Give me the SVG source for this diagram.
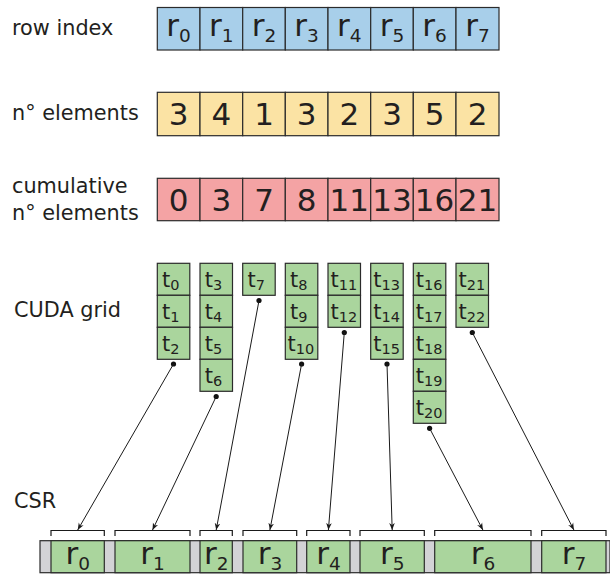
<svg xmlns="http://www.w3.org/2000/svg" width="610" height="574" viewBox="0 0 610 574">
  <defs>
    <style>
      text { font-family: "DejaVu Sans", "Liberation Sans", sans-serif; fill: #231f20; }
      .lbl { font-size: 20.8px; }
      .big { font-size: 31px; text-anchor: middle; }
      .th { font-size: 21px; }
      .cell { stroke: #2b2b2b; stroke-width: 1.2; }
      .blue { fill: #a8cfea; }
      .yellow { fill: #fbe3a4; }
      .red { fill: #f4a3a4; }
      .green { fill: #aad59d; }
      .gray { fill: #d3d3d6; stroke: #2b2b2b; stroke-width: 1.2; }
      .wire { stroke: #1a1a1a; stroke-width: 1; fill: none; }
      .brk { stroke: #1a1a1a; stroke-width: 1.2; fill: none; }
      .dot { fill: #111; }
    </style>
    <marker id="arrow" viewBox="0 0 10 10" refX="10" refY="5" markerWidth="7" markerHeight="7" orient="auto" markerUnits="userSpaceOnUse">
      <path d="M0,1 L10,5 L0,9 L3,5 Z" fill="#1a1a1a"/>
    </marker>
  </defs>

  <rect width="610" height="574" fill="#ffffff"/>

  <!-- side labels -->
  <g id="labels">
    <text class="lbl" x="12" y="35">row index</text>
    <text class="lbl" x="12" y="120">n° elements</text>
    <text class="lbl" x="12" y="193">cumulative</text>
    <text class="lbl" x="12" y="220">n° elements</text>
    <text class="lbl" x="14" y="317">CUDA grid</text>
    <text class="lbl" x="14" y="508">CSR</text>
  </g>

  <!-- row index array -->
  <g id="row-index">
    <rect class="cell blue" x="157.3" y="7.5" width="42.7" height="42.5"/>
    <rect class="cell blue" x="200" y="7.5" width="42.7" height="42.5"/>
    <rect class="cell blue" x="242.7" y="7.5" width="42.6" height="42.5"/>
    <rect class="cell blue" x="285.3" y="7.5" width="42.7" height="42.5"/>
    <rect class="cell blue" x="328" y="7.5" width="42.7" height="42.5"/>
    <rect class="cell blue" x="370.7" y="7.5" width="42.6" height="42.5"/>
    <rect class="cell blue" x="413.3" y="7.5" width="42.7" height="42.5"/>
    <rect class="cell blue" x="456" y="7.5" width="43" height="42.5"/>
    <text class="big" x="178.6" y="36">r<tspan font-size="18.5" dy="6">0</tspan></text>
    <text class="big" x="221.3" y="36">r<tspan font-size="18.5" dy="6">1</tspan></text>
    <text class="big" x="264" y="36">r<tspan font-size="18.5" dy="6">2</tspan></text>
    <text class="big" x="306.6" y="36">r<tspan font-size="18.5" dy="6">3</tspan></text>
    <text class="big" x="349.3" y="36">r<tspan font-size="18.5" dy="6">4</tspan></text>
    <text class="big" x="392" y="36">r<tspan font-size="18.5" dy="6">5</tspan></text>
    <text class="big" x="434.6" y="36">r<tspan font-size="18.5" dy="6">6</tspan></text>
    <text class="big" x="477.5" y="36">r<tspan font-size="18.5" dy="6">7</tspan></text>
  </g>

  <!-- number of elements per row -->
  <g id="n-elements">
    <rect class="cell yellow" x="157.3" y="92.3" width="42.7" height="43.4"/>
    <rect class="cell yellow" x="200" y="92.3" width="42.7" height="43.4"/>
    <rect class="cell yellow" x="242.7" y="92.3" width="42.6" height="43.4"/>
    <rect class="cell yellow" x="285.3" y="92.3" width="42.7" height="43.4"/>
    <rect class="cell yellow" x="328" y="92.3" width="42.7" height="43.4"/>
    <rect class="cell yellow" x="370.7" y="92.3" width="42.6" height="43.4"/>
    <rect class="cell yellow" x="413.3" y="92.3" width="42.7" height="43.4"/>
    <rect class="cell yellow" x="456" y="92.3" width="43" height="43.4"/>
    <text class="big" x="178.6" y="125">3</text>
    <text class="big" x="221.3" y="125">4</text>
    <text class="big" x="264" y="125">1</text>
    <text class="big" x="306.6" y="125">3</text>
    <text class="big" x="349.3" y="125">2</text>
    <text class="big" x="392" y="125">3</text>
    <text class="big" x="434.6" y="125">5</text>
    <text class="big" x="477.5" y="125">2</text>
  </g>

  <!-- cumulative number of elements -->
  <g id="cumulative">
    <rect class="cell red" x="157.3" y="178.3" width="42.7" height="42.4"/>
    <rect class="cell red" x="200" y="178.3" width="42.7" height="42.4"/>
    <rect class="cell red" x="242.7" y="178.3" width="42.6" height="42.4"/>
    <rect class="cell red" x="285.3" y="178.3" width="42.7" height="42.4"/>
    <rect class="cell red" x="328" y="178.3" width="42.7" height="42.4"/>
    <rect class="cell red" x="370.7" y="178.3" width="42.6" height="42.4"/>
    <rect class="cell red" x="413.3" y="178.3" width="42.7" height="42.4"/>
    <rect class="cell red" x="456" y="178.3" width="43" height="42.4"/>
    <text class="big" x="178.6" y="211">0</text>
    <text class="big" x="221.3" y="211">3</text>
    <text class="big" x="264" y="211">7</text>
    <text class="big" x="306.6" y="211">8</text>
    <text class="big" x="349.3" y="211">11</text>
    <text class="big" x="392" y="211">13</text>
    <text class="big" x="434.6" y="211">16</text>
    <text class="big" x="477.5" y="211">21</text>
  </g>

  <!-- CUDA grid: one block of threads per row -->
  <g id="block-0">
    <rect class="cell green" x="157.3" y="263.3" width="32.5" height="32"/>
    <rect class="cell green" x="157.3" y="295.3" width="32.5" height="32"/>
    <rect class="cell green" x="157.3" y="327.3" width="32.5" height="32"/>
    <text class="th" x="162" y="287">t<tspan font-size="14.5" dy="2.5">0</tspan></text>
    <text class="th" x="162" y="319">t<tspan font-size="14.5" dy="2.5">1</tspan></text>
    <text class="th" x="162" y="351">t<tspan font-size="14.5" dy="2.5">2</tspan></text>
  </g>
  <g id="block-1">
    <rect class="cell green" x="200" y="263.3" width="32.5" height="32"/>
    <rect class="cell green" x="200" y="295.3" width="32.5" height="32"/>
    <rect class="cell green" x="200" y="327.3" width="32.5" height="32"/>
    <rect class="cell green" x="200" y="359.3" width="32.5" height="32"/>
    <text class="th" x="204.7" y="287">t<tspan font-size="14.5" dy="2.5">3</tspan></text>
    <text class="th" x="204.7" y="319">t<tspan font-size="14.5" dy="2.5">4</tspan></text>
    <text class="th" x="204.7" y="351">t<tspan font-size="14.5" dy="2.5">5</tspan></text>
    <text class="th" x="204.7" y="383">t<tspan font-size="14.5" dy="2.5">6</tspan></text>
  </g>
  <g id="block-2">
    <rect class="cell green" x="242.7" y="263.3" width="32.5" height="32"/>
    <text class="th" x="247.4" y="287">t<tspan font-size="14.5" dy="2.5">7</tspan></text>
  </g>
  <g id="block-3">
    <rect class="cell green" x="285.3" y="263.3" width="32.5" height="32"/>
    <rect class="cell green" x="285.3" y="295.3" width="32.5" height="32"/>
    <rect class="cell green" x="285.3" y="327.3" width="32.5" height="32"/>
    <text class="th" x="290" y="287">t<tspan font-size="14.5" dy="2.5">8</tspan></text>
    <text class="th" x="290" y="319">t<tspan font-size="14.5" dy="2.5">9</tspan></text>
    <text class="th" x="287.5" y="351">t<tspan font-size="14.5" dy="2.5">10</tspan></text>
  </g>
  <g id="block-4">
    <rect class="cell green" x="328" y="263.3" width="32.5" height="32"/>
    <rect class="cell green" x="328" y="295.3" width="32.5" height="32"/>
    <text class="th" x="330.5" y="287">t<tspan font-size="14.5" dy="2.5">11</tspan></text>
    <text class="th" x="330.5" y="319">t<tspan font-size="14.5" dy="2.5">12</tspan></text>
  </g>
  <g id="block-5">
    <rect class="cell green" x="370.7" y="263.3" width="32.5" height="32"/>
    <rect class="cell green" x="370.7" y="295.3" width="32.5" height="32"/>
    <rect class="cell green" x="370.7" y="327.3" width="32.5" height="32"/>
    <text class="th" x="373.2" y="287">t<tspan font-size="14.5" dy="2.5">13</tspan></text>
    <text class="th" x="373.2" y="319">t<tspan font-size="14.5" dy="2.5">14</tspan></text>
    <text class="th" x="373.2" y="351">t<tspan font-size="14.5" dy="2.5">15</tspan></text>
  </g>
  <g id="block-6">
    <rect class="cell green" x="413.3" y="263.3" width="32.5" height="32"/>
    <rect class="cell green" x="413.3" y="295.3" width="32.5" height="32"/>
    <rect class="cell green" x="413.3" y="327.3" width="32.5" height="32"/>
    <rect class="cell green" x="413.3" y="359.3" width="32.5" height="32"/>
    <rect class="cell green" x="413.3" y="391.3" width="32.5" height="32"/>
    <text class="th" x="415.8" y="287">t<tspan font-size="14.5" dy="2.5">16</tspan></text>
    <text class="th" x="415.8" y="319">t<tspan font-size="14.5" dy="2.5">17</tspan></text>
    <text class="th" x="415.8" y="351">t<tspan font-size="14.5" dy="2.5">18</tspan></text>
    <text class="th" x="415.8" y="383">t<tspan font-size="14.5" dy="2.5">19</tspan></text>
    <text class="th" x="415.8" y="415">t<tspan font-size="14.5" dy="2.5">20</tspan></text>
  </g>
  <g id="block-7">
    <rect class="cell green" x="456" y="263.3" width="32.5" height="32"/>
    <rect class="cell green" x="456" y="295.3" width="32.5" height="32"/>
    <text class="th" x="458.5" y="287">t<tspan font-size="14.5" dy="2.5">21</tspan></text>
    <text class="th" x="458.5" y="319">t<tspan font-size="14.5" dy="2.5">22</tspan></text>
  </g>

  <!-- CSR storage: padding (gray) between row segments (green) -->
  <g id="csr">
    <rect class="gray" x="40" y="540.7" width="570" height="32"/>
    <rect class="cell green" x="51" y="540.7" width="53.3" height="32"/>
    <rect class="cell green" x="115" y="540.7" width="75" height="32"/>
    <rect class="cell green" x="200" y="540.7" width="32.3" height="32"/>
    <rect class="cell green" x="243" y="540.7" width="53.7" height="32"/>
    <rect class="cell green" x="306.7" y="540.7" width="43.3" height="32"/>
    <rect class="cell green" x="360" y="540.7" width="64.3" height="32"/>
    <rect class="cell green" x="434.7" y="540.7" width="96.3" height="32"/>
    <rect class="cell green" x="541.7" y="540.7" width="64.3" height="32"/>
    <text class="big" x="77.7" y="564">r<tspan font-size="18.5" dy="6">0</tspan></text>
    <text class="big" x="152.5" y="564">r<tspan font-size="18.5" dy="6">1</tspan></text>
    <text class="big" x="216.2" y="564">r<tspan font-size="18.5" dy="6">2</tspan></text>
    <text class="big" x="269.9" y="564">r<tspan font-size="18.5" dy="6">3</tspan></text>
    <text class="big" x="328.4" y="564">r<tspan font-size="18.5" dy="6">4</tspan></text>
    <text class="big" x="392.2" y="564">r<tspan font-size="18.5" dy="6">5</tspan></text>
    <text class="big" x="482.9" y="564">r<tspan font-size="18.5" dy="6">6</tspan></text>
    <text class="big" x="573.9" y="564">r<tspan font-size="18.5" dy="6">7</tspan></text>
    <!-- brackets over each row segment -->
    <path class="brk" d="M51,536 V530.5 H104.3 V536"/>
    <path class="brk" d="M115,536 V530.5 H190 V536"/>
    <path class="brk" d="M200,536 V530.5 H232.3 V536"/>
    <path class="brk" d="M243,536 V530.5 H296.7 V536"/>
    <path class="brk" d="M306.7,536 V530.5 H350 V536"/>
    <path class="brk" d="M360,536 V530.5 H424.3 V536"/>
    <path class="brk" d="M434.7,536 V530.5 H531 V536"/>
    <path class="brk" d="M541.7,536 V530.5 H606 V536"/>
  </g>

  <!-- connectors: each block maps to its CSR row segment -->
  <g id="connectors">
    <circle class="dot" cx="173.5" cy="364" r="2.6"/>
    <circle class="dot" cx="216.2" cy="396.5" r="2.6"/>
    <circle class="dot" cx="259" cy="300.5" r="2.6"/>
    <circle class="dot" cx="301.6" cy="364" r="2.6"/>
    <circle class="dot" cx="344.3" cy="332.5" r="2.6"/>
    <circle class="dot" cx="387" cy="364" r="2.6"/>
    <circle class="dot" cx="429.6" cy="428.3" r="2.6"/>
    <circle class="dot" cx="472.3" cy="332.5" r="2.6"/>
    <line class="wire" x1="173.5" y1="364" x2="77.7" y2="530" marker-end="url(#arrow)"/>
    <line class="wire" x1="216.2" y1="396.5" x2="152.5" y2="530" marker-end="url(#arrow)"/>
    <line class="wire" x1="259" y1="300.5" x2="216.2" y2="530" marker-end="url(#arrow)"/>
    <line class="wire" x1="301.6" y1="364" x2="269.9" y2="530" marker-end="url(#arrow)"/>
    <line class="wire" x1="344.3" y1="332.5" x2="328.4" y2="530" marker-end="url(#arrow)"/>
    <line class="wire" x1="387" y1="364" x2="392.2" y2="530" marker-end="url(#arrow)"/>
    <line class="wire" x1="429.6" y1="428.3" x2="482.9" y2="530" marker-end="url(#arrow)"/>
    <line class="wire" x1="472.3" y1="332.5" x2="573.9" y2="530" marker-end="url(#arrow)"/>
  </g>
</svg>
